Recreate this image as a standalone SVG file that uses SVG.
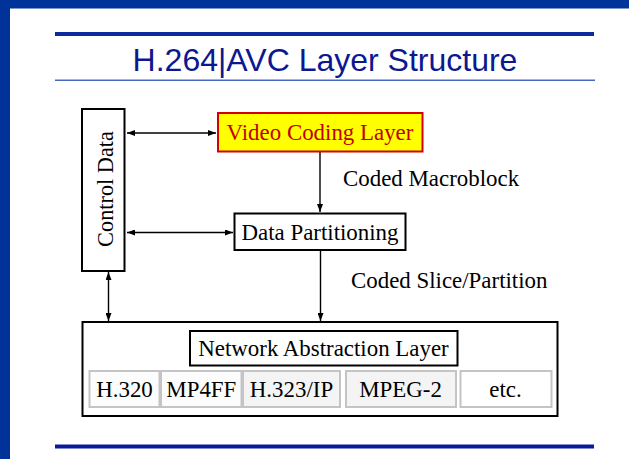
<svg xmlns="http://www.w3.org/2000/svg" width="629" height="459" viewBox="0 0 629 459">
<defs>
<style>
.t{font-family:"Liberation Serif","Times New Roman",serif;font-size:22.9px;fill:#000}
.box{fill:#fff;stroke:#000;stroke-width:2}
.cell{stroke:#c4c4c4;stroke-width:2}
.ln{stroke:#000;stroke-width:1.4;fill:none}
</style>
<marker id="ah" viewBox="0 0 8 6" refX="8" refY="3" markerWidth="8" markerHeight="6" markerUnits="userSpaceOnUse" orient="auto-start-reverse">
<path d="M0,0 L8,3 L0,6 Z" fill="#000"/>
</marker>
</defs>
<rect width="629" height="459" fill="#fff"/>
<rect x="0" y="0" width="629" height="8.5" fill="#003399"/>
<rect x="0" y="0" width="10" height="459" fill="#003399"/>
<rect x="55" y="32" width="539" height="4" fill="#0a2a9e"/>
<rect x="55" y="79.5" width="540" height="1.5" fill="#4a68c0"/>
<rect x="55" y="444.5" width="539" height="4" fill="#0a1a9a"/>
<text x="325" y="71" text-anchor="middle" style="font-family:'Liberation Sans',Arial,sans-serif;font-size:32px;fill:#0c1890">H.264|AVC Layer Structure</text>

<g id="connectors">
<line class="ln" x1="127" y1="133" x2="216" y2="133" marker-start="url(#ah)" marker-end="url(#ah)"/>
<line class="ln" x1="127" y1="232.5" x2="233" y2="232.5" marker-start="url(#ah)" marker-end="url(#ah)"/>
<line class="ln" x1="108.5" y1="272" x2="108.5" y2="321" marker-start="url(#ah)" marker-end="url(#ah)"/>
<line class="ln" x1="320" y1="152" x2="320" y2="212" marker-end="url(#ah)"/>
<line class="ln" x1="320.5" y1="251" x2="320.5" y2="321" marker-end="url(#ah)"/>
<text class="t" x="343" y="186">Coded Macroblock</text>
<text class="t" x="351" y="288">Coded Slice/Partition</text>
</g>

<g id="control-data">
<rect class="box" x="82" y="109" width="42.5" height="162"/>
<text class="t" transform="translate(112.5,189) rotate(-90)" text-anchor="middle" style="font-size:22.3px">Control Data</text>
</g>

<g id="video-coding-layer">
<rect x="218" y="113" width="204.5" height="38.5" fill="#ffff00" stroke="#d40000" stroke-width="2"/>
<text class="t" x="320" y="139.5" text-anchor="middle" style="fill:#c00000">Video Coding Layer</text>
</g>

<g id="data-partitioning">
<rect class="box" x="234.5" y="213.5" width="171" height="36.5"/>
<text class="t" x="320" y="239.5" text-anchor="middle">Data Partitioning</text>
</g>

<g id="network-abstraction">
<rect class="box" x="82.5" y="322" width="475" height="94"/>
<rect class="box" x="190" y="331" width="267.5" height="34.5"/>
<text class="t" x="323.5" y="356" text-anchor="middle">Network Abstraction Layer</text>
<rect class="cell" x="89.5" y="371" width="70" height="36" fill="#fcfcfc"/>
<rect class="cell" x="161" y="371" width="80.5" height="36" fill="#fcfcfc"/>
<rect class="cell" x="243" y="371" width="97" height="36" fill="#f4f4f4"/>
<rect class="cell" x="346" y="371" width="110" height="36" fill="#f4f4f4"/>
<rect class="cell" x="460.5" y="371" width="91" height="36" fill="#fff"/>
<text class="t" x="124.5" y="397" text-anchor="middle">H.320</text>
<text class="t" x="201.3" y="397" text-anchor="middle">MP4FF</text>
<text class="t" x="291.5" y="397" text-anchor="middle">H.323/IP</text>
<text class="t" x="400.5" y="397" text-anchor="middle">MPEG-2</text>
<text class="t" x="505.5" y="397" text-anchor="middle">etc.</text>
</g>
</svg>
